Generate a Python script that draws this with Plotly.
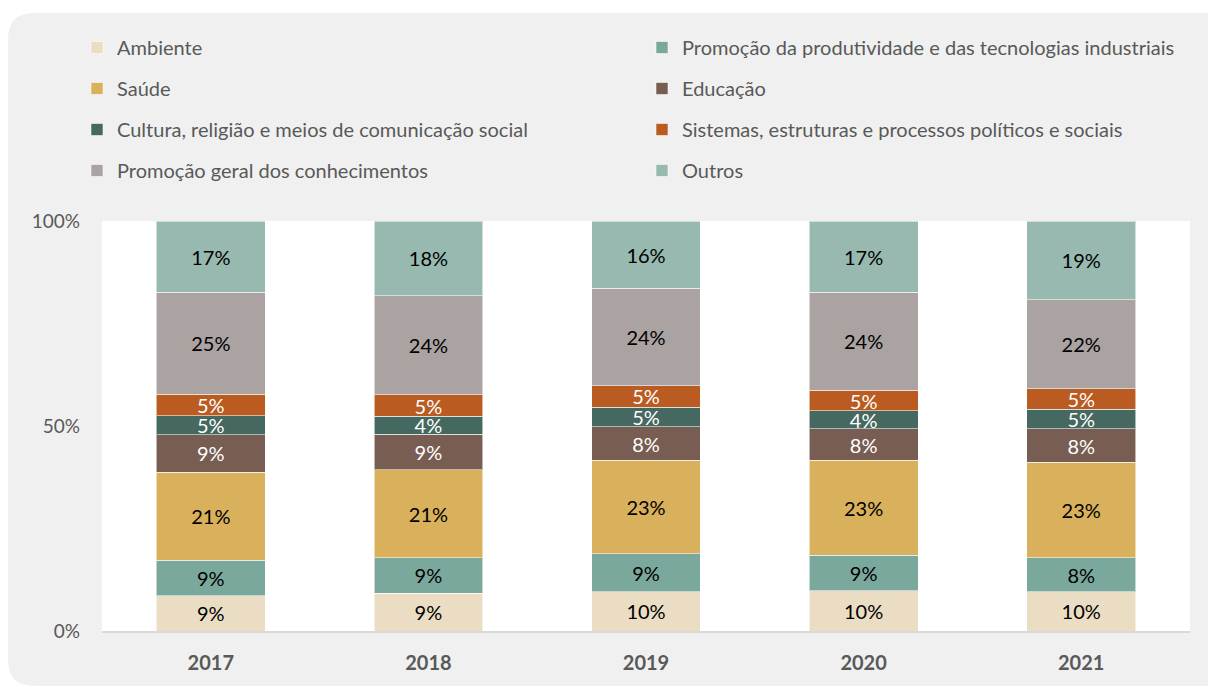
import plotly.graph_objects as go

years = ["2017", "2018", "2019", "2020", "2021"]

ambiente = [8.6, 9.2, 9.6, 9.8, 9.6]
produtividade = [8.7, 8.7, 9.3, 8.7, 8.3]
saude = [21.4, 21.4, 22.7, 23.1, 23.2]
educacao = [9.2, 8.7, 8.2, 7.7, 8.2]
cultura = [4.6, 4.4, 4.8, 4.4, 4.8]
sistemas = [5.2, 5.2, 5.2, 5.0, 5.0]
promocao_geral = [24.9, 24.2, 23.8, 23.9, 21.7]
outros = [17.4, 18.2, 16.4, 17.4, 19.2]

y_tick_values = [0, 50, 100]
y_tick_labels = ["0%", "50%", "100%"]

series = [
    ("Ambiente", ambiente, "#EBDDC3", "#000000", "legend"),
    ("Promoção da produtividade e das tecnologias industriais", produtividade, "#7BA89D", "#000000", "legend2"),
    ("Saúde", saude, "#D9B05B", "#000000", "legend"),
    ("Educação", educacao, "#785D53", "#FFFFFF", "legend2"),
    ("Cultura, religião e meios de comunicação social", cultura, "#456860", "#FFFFFF", "legend"),
    ("Sistemas, estruturas e processos políticos e sociais", sistemas, "#BA5B21", "#FFFFFF", "legend2"),
    ("Promoção geral dos conhecimentos", promocao_geral, "#ABA2A2", "#000000", "legend"),
    ("Outros", outros, "#97B9B0", "#000000", "legend2"),
]

FONT = "Lato"
W, H = 1208, 687
L, R, T, B = 102, 18, 221, 56
pw, ph = W - L - R, H - T - B

fig = go.Figure()
for name, vals, color, tcolor, lg in series:
    fig.add_trace(go.Bar(
        x=years, y=vals, name=name,
        marker=dict(color=color, line=dict(color="rgba(255,255,255,0.55)", width=1)),
        texttemplate="%{y:.0f}%", textposition="inside", insidetextanchor="middle",
        textangle=0, constraintext="none",
        insidetextfont=dict(family=FONT, size=20, color=tcolor),
        legend=lg, legendgroup=name,
    ))

def X(px):
    return (px - L) / pw

def Y(py):
    return (H - B - py) / ph

# rounded card background (pixel coords)
x0, y0, x1, y1, r = 8, 13, 1233, 686, 26
path = (f"M {X(x0+r)},{Y(y0)} L {X(x1-r)},{Y(y0)} Q {X(x1)},{Y(y0)} {X(x1)},{Y(y0+r)} "
        f"L {X(x1)},{Y(y1-r)} Q {X(x1)},{Y(y1)} {X(x1-r)},{Y(y1)} "
        f"L {X(x0+r)},{Y(y1)} Q {X(x0)},{Y(y1)} {X(x0)},{Y(y1-r)} "
        f"L {X(x0)},{Y(y0+r)} Q {X(x0)},{Y(y0)} {X(x0+r)},{Y(y0)} Z")

legend_font = dict(family=FONT, size=20, color="#595959")

fig.update_layout(
    width=W, height=H,
    margin=dict(l=L, r=R, t=T, b=B),
    paper_bgcolor="#FFFFFF", plot_bgcolor="rgba(0,0,0,0)",
    barmode="stack", bargap=0.5,
    font=dict(family=FONT, size=19, color="#595959"),
    uniformtext=dict(mode="show", minsize=20),
    showlegend=True,
    legend=dict(x=X(77), y=Y(28), xanchor="left", yanchor="top",
                orientation="v", tracegroupgap=12, bgcolor="rgba(0,0,0,0)",
                font=legend_font),
    legend2=dict(x=X(642), y=Y(28), xanchor="left", yanchor="top",
                 orientation="v", tracegroupgap=12, bgcolor="rgba(0,0,0,0)",
                 font=legend_font),
    xaxis=dict(type="category", showgrid=False, showline=True, linecolor="#D9D9D9", linewidth=2,
               ticks="", tickfont=dict(family=FONT, size=20, color="#595959", weight="bold"),
               ticklabelstandoff=13, fixedrange=True),
    yaxis=dict(range=[0, 100], tickmode="array", tickvals=y_tick_values, ticktext=y_tick_labels,
               showgrid=False, zeroline=False, showline=False, ticks="",
               tickfont=dict(family=FONT, size=19, color="#595959"), ticklabelstandoff=21,
               fixedrange=True),
    shapes=[
        dict(type="path", path=path, xref="paper", yref="paper", fillcolor="#F0F0F0",
             line=dict(width=0), layer="below"),
        dict(type="rect", xref="x domain", yref="y domain", x0=0, x1=1, y0=0, y1=1,
             fillcolor="#FFFFFF", line=dict(width=0), layer="below"),
    ],
)

fig.write_html(
    "out.html",
    config={"displayModeBar": False},
    post_script="document.body.style.margin='0';document.body.style.overflow='hidden';",
)
